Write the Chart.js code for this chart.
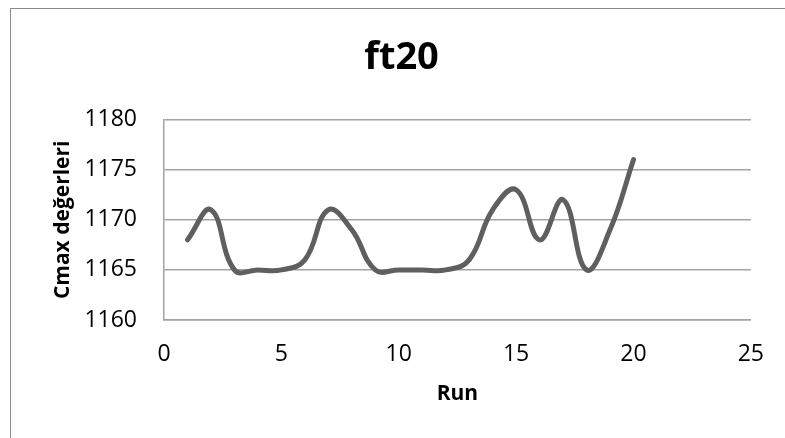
<!DOCTYPE html>
<html>
<head>
<meta charset="utf-8">
<script src="https://cdn.jsdelivr.net/npm/chart.js@4/dist/chart.umd.min.js"></script>
<style>
  html, body { margin: 0; padding: 0; background: #fff; overflow: hidden; }
  #wrap { position: relative; width: 785px; height: 438px; }
  #frame { position: absolute; left: 10px; top: 8px; width: 800px; height: 460px;
           border: 1px solid #8a8a8a; box-sizing: border-box; pointer-events: none; }
  canvas { position: absolute; left: 0; top: 0; }
</style>
</head>
<body>
<div id="wrap">
  <canvas id="c" width="785" height="438"></canvas>
  <div id="frame"></div>
</div>
<script>
// Run numbers and the Cmax value obtained in each run
const runs = [1, 2, 3, 4, 5, 6, 7, 8, 9, 10, 11, 12, 13, 14, 15, 16, 17, 18, 19, 20];
const cmax = [1168, 1171, 1165, 1165, 1165, 1166, 1171, 1169, 1165, 1165,
              1165, 1165, 1166, 1171, 1173, 1168, 1172, 1165, 1169, 1176];
const xTicks = [0, 5, 10, 15, 20, 25];
const yTicks = [1160, 1165, 1170, 1175, 1180];

const chartTitle = 'ft20';
const xTitle = 'Run';
const yTitle = 'Cmax değerleri';

const FONT = "'Open Sans', 'Liberation Sans', sans-serif";
const gridGrey = '#a3a3a3';

new Chart(document.getElementById('c'), {
  type: 'line',
  data: {
    datasets: [{
      data: runs.map((r, i) => ({ x: r, y: cmax[i] })),
      borderColor: '#5f5f5f',
      borderWidth: 5,
      pointRadius: 0,
      tension: 0.42,
      fill: false,
      borderCapStyle: 'round',
      borderJoinStyle: 'round'
    }]
  },
  options: {
    responsive: false,
    animation: false,
    layout: { padding: { left: 50, right: 32, top: 0, bottom: 28 } },
    plugins: {
      legend: { display: false },
      tooltip: { enabled: false },
      title: {
        display: true,
        text: chartTitle,
        color: '#000',
        font: { family: FONT, size: 38, weight: 'bold' },
        padding: { top: 35, bottom: 39 }
      }
    },
    scales: {
      x: {
        type: 'linear',
        min: 0, max: 25,
        afterBuildTicks: s => { s.ticks = xTicks.map(v => ({ value: v })); },
        afterFit: s => { s.height = 90; },
        grid: { display: false, drawTicks: false },
        border: { display: true, color: gridGrey, width: 1.5 },
        ticks: {
          color: '#000', font: { family: FONT, size: 23 }, padding: 21, maxRotation: 0,
          callback: v => String(v)
        },
        title: {
          display: true, text: xTitle, color: '#000',
          font: { family: FONT, size: 21, weight: 'bold' },
          padding: { top: 0, bottom: 3 }
        }
      },
      y: {
        min: 1160, max: 1180,
        afterBuildTicks: s => { s.ticks = yTicks.map(v => ({ value: v })); },
        afterFit: s => { s.width = 114; },
        grid: { color: gridGrey, lineWidth: 1.5, drawTicks: false },
        border: { display: true, color: gridGrey, width: 1.5 },
        ticks: {
          color: '#000', font: { family: FONT, size: 23 }, padding: 27,
          callback: v => String(v)
        },
        title: {
          display: true, text: yTitle, color: '#000',
          font: { family: FONT, size: 21, weight: 'bold' },
          padding: { top: 0, bottom: 0 }
        }
      }
    }
  }
});
</script>
</body>
</html>
